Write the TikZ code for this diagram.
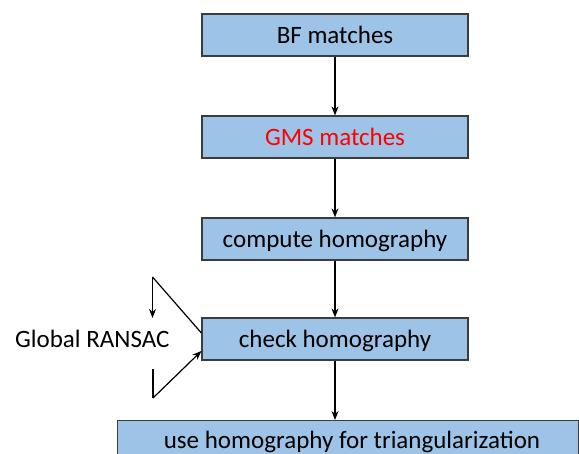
\documentclass[tikz,border=0pt]{standalone}
\usepackage{fontspec}
\setmainfont{Carlito}
\usetikzlibrary{arrows.meta}
\definecolor{boxblue}{RGB}{157,195,230}
\definecolor{boxedge}{RGB}{60,60,60}
\tikzset{
  labelfont/.style={font=\fontsize{25}{28}\selectfont},
  stepbox/.style={draw=boxedge, line width=1.2pt, fill=boxblue, minimum width=266pt, minimum height=42pt, inner sep=0pt, text height=22.5pt, text depth=4.5pt, labelfont},
  flow/.style={-{Stealth[length=9pt,width=7pt]}, line width=1.2pt},
  plain/.style={line width=1.2pt}
}
\begin{document}
\begin{tikzpicture}[x=1pt,y=-1pt]
\useasboundingbox (0,0) rectangle (579,454);
\node[stepbox] (bf) at (335,35) {BF matches};
\node[stepbox, text=red] (gms) at (335,137) {GMS matches};
\node[stepbox] (comp) at (335,239) {compute homography};
\node[stepbox] (check) at (335,339) {check homography};
\begin{scope}
\clip (0,0) rectangle (579,454);
\node[stepbox, minimum width=461pt, anchor=north west] (use) at (116.5,420) {};
\node[labelfont, anchor=base, inner sep=0pt] (uselabel) at (352,449) {use homography for triangularization};
\end{scope}
\node[labelfont, anchor=base west, inner sep=0pt] (ransac) at (15,348) {Global RANSAC};
\draw[flow] (bf) -- (gms);
\draw[flow] (gms) -- (comp);
\draw[flow] (comp) -- (check);
\draw[flow] (check.south) -- (check.south |- use.north);
% RANSAC loop on the left of the check box
\coordinate (topcorner) at (152.5,277);
\coordinate (topend) at (152.5,318);
\coordinate (botstart) at (153,369);
\coordinate (botcorner) at (153,398);
\draw[plain] (check.west |- 0,333) -- (topcorner);
\draw[flow] (topcorner) -- (topend);
\draw[plain] (botstart) -- (botcorner);
\draw[flow] (botcorner) -- (check.west |- 0,351);
\end{tikzpicture}
\end{document}
